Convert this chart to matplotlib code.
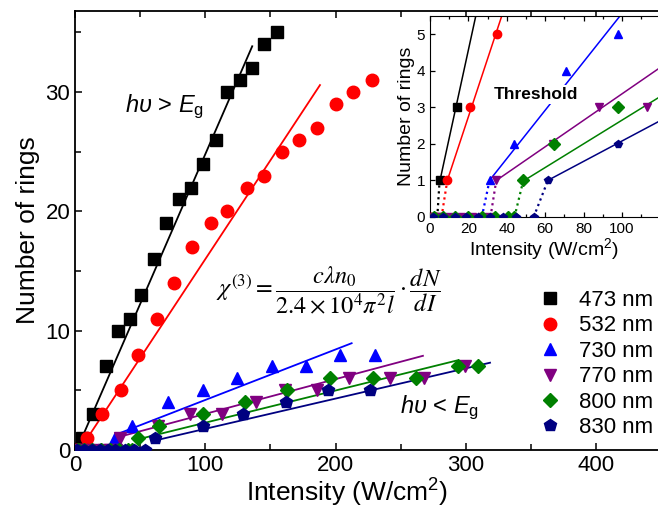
import numpy as np
import matplotlib
matplotlib.use('Agg')
import matplotlib.pyplot as plt
from matplotlib.lines import Line2D
from matplotlib.ticker import MultipleLocator

plt.rcParams['font.family'] = ['Liberation Sans', 'DejaVu Sans']
plt.rcParams['mathtext.fontset'] = 'custom'
plt.rcParams['mathtext.rm'] = 'Liberation Sans'
plt.rcParams['mathtext.it'] = 'Liberation Sans:italic'
plt.rcParams['mathtext.bf'] = 'Liberation Sans:bold'

# intensity (W/cm2) and number of rings, zeros below the threshold first
i473 = [1, 3.8, 5, 14, 24, 33, 42, 51, 61, 70, 80, 89, 98, 108, 117, 127, 136, 145, 155]
n473 = [0, 0, 1, 3, 7, 10, 11, 13, 16, 19, 21, 22, 24, 26, 30, 31, 32, 34, 35]
i532 = [0.5, 3, 6, 9, 21, 35, 48, 63, 76, 90, 104, 117, 132, 145, 159, 172, 186, 200, 213, 228]
n532 = [0, 0, 0, 1, 3, 5, 8, 11, 14, 17, 19, 20, 22, 23, 25, 26, 27, 29, 30, 31]
i730 = [0.5, 4, 9, 14, 19, 23.5, 27, 31, 44, 71, 98, 124, 151, 177, 203, 230]
n730 = [0, 0, 0, 0, 0, 0, 0, 1, 2, 4, 5, 6, 7, 7, 8, 8]
i770 = [1, 5, 10, 16, 22, 27, 31.5, 34.5, 64, 88, 113, 139, 161, 185.5, 210, 242, 268, 299]
n770 = [0, 0, 0, 0, 0, 0, 0, 1, 2, 3, 3, 4, 5, 5, 6, 6, 6, 7]
i800 = [2, 7, 13, 20, 27, 34, 40.5, 44, 48.6, 64.7, 98, 130.5, 163, 196, 229, 262, 294, 309.5]
n800 = [0, 0, 0, 0, 0, 0, 0, 0, 1, 2, 3, 4, 5, 6, 6, 6, 7, 7]
i830 = [1.5, 7, 13, 19, 25, 31, 38, 45, 54, 61.4, 98, 129, 162, 194.4, 226.4]
n830 = [0, 0, 0, 0, 0, 0, 0, 0, 0, 1, 2, 3, 4, 5, 5]

labels = ['473 nm', '532 nm', '730 nm', '770 nm', '800 nm', '830 nm']
colors = ['black', 'red', 'blue', '#800080', '#008000', '#000080']
markers = ['s', 'o', '^', 'v', 'D', 'p']
msizes = [8, 9, 9, 9, 7.5, 9]

# linear fits N = a*I + b over [start, end]
fit_a = [0.2512, 0.1658, 0.04235, 0.02914, 0.027, 0.02536]
fit_b = [-0.32, -0.58, -0.04, 0.115, -0.41, -0.76]
fit_start = [2, 7, 30.7, 34.5, 48.6, 61.4]
fit_end = [136, 188, 212.3, 267, 293, 318.5]
# fits of the first points, shown in the inset
ins_a = [0.2414, 0.1587, 0.0662, 0.0362, 0.0324, 0.0279]
ins_b = [-0.255, -0.43, -1.05, -0.25, -0.59, -0.71]
ins_start = [5, 9, 31, 34.5, 48.6, 61.4]
ins_end = [26, 40, 101, 119, 119, 119]

xs = [i473, i532, i730, i770, i800, i830]
ys = [n473, n532, n730, n770, n800, n830]

fig = plt.figure(figsize=(6.58, 5.12), dpi=100)
ax = fig.add_axes([75 / 658, 1 - 450 / 512, 1 - 75 / 658, 439 / 512])

for k in range(6):
    fx = np.array([fit_start[k], fit_end[k]])
    ax.plot(fx, fit_a[k] * fx + fit_b[k], color=colors[k], lw=1.3, zorder=2)
for k in range(6):
    ax.plot(xs[k], ys[k], ls='none', marker=markers[k], ms=msizes[k],
            color=colors[k], mec=colors[k], zorder=3)

ax.set_xlim(0, 447.4)
ax.set_ylim(0, 36.8)
ax.xaxis.set_major_locator(MultipleLocator(100))
ax.xaxis.set_minor_locator(MultipleLocator(50))
ax.yaxis.set_major_locator(MultipleLocator(10))
ax.yaxis.set_minor_locator(MultipleLocator(5))
ax.tick_params(which='both', direction='in', top=True, right=False, labelsize=16, width=1.1)
ax.tick_params(which='major', length=5)
ax.tick_params(which='minor', length=4)
ax.spines['right'].set_visible(False)
for s in ['left', 'bottom', 'top']:
    ax.spines[s].set_linewidth(1.3)
ax.set_xlabel('Intensity (W/cm$^2$)', fontsize=19, labelpad=1)
ax.xaxis.set_label_coords(0.467, -0.062)
ax.set_ylabel('Number of rings', fontsize=19, labelpad=4)

ax.text(69, 28.8, r'$h\upsilon$ > $E_{\mathrm{g}}$', fontsize=17, ha='center', va='center')
ax.text(280, 3.5, r'$h\upsilon$ < $E_{\mathrm{g}}$', fontsize=17, ha='center', va='center')
ax.text(195, 13.3,
        r'$\chi^{(3)}=\dfrac{c\lambda n_0}{2.4\times10^4\pi^2 l}\cdot\dfrac{dN}{dI}$',
        fontsize=17.5, ha='center', va='center', math_fontfamily='stix')

handles = [Line2D([], [], ls='none', marker=markers[k], ms=msizes[k], color=colors[k])
           for k in range(6)]
fig.legend(handles, labels, loc='upper left', bbox_to_anchor=(539 / 658, 1 - 290 / 512),
           frameon=False, fontsize=16, handlelength=1.0, handletextpad=0.8,
           labelspacing=0.2, borderpad=0, borderaxespad=0)

# inset
ins = fig.add_axes([430 / 658, 1 - 217 / 512, 1 - 430 / 658, 201 / 512])
ins.set_facecolor('white')
for k in range(6):
    fx = np.array([ins_start[k], ins_end[k]])
    ins.plot(fx, ins_a[k] * fx + ins_b[k], color=colors[k], lw=1.1, zorder=2)
    x = np.array(xs[k])
    y = np.array(ys[k])
    j = int(np.argmax(y > 0))
    ins.plot(x[j - 1:j + 1], y[j - 1:j + 1], ls=':', color=colors[k], lw=1.6, zorder=2)
for k in range(6):
    ins.plot(xs[k], ys[k], ls='none', marker=markers[k], ms=6, color=colors[k], zorder=3)

ins.text(55, 3.35, 'Threshold', fontsize=12.5, fontweight='bold', ha='center', va='center',
         bbox=dict(facecolor='white', edgecolor='none', pad=1.5), zorder=4)
ins.set_xlim(0, 118.75)
ins.set_ylim(0, 5.5)
ins.xaxis.set_major_locator(MultipleLocator(20))
ins.xaxis.set_minor_locator(MultipleLocator(10))
ins.yaxis.set_major_locator(MultipleLocator(1))
ins.tick_params(which='both', direction='in', top=True, right=False, labelsize=11, width=0.9)
ins.tick_params(which='major', length=3.5)
ins.tick_params(which='minor', length=2)
ins.spines['right'].set_visible(False)
ins.set_xlabel('Intensity (W/cm$^2$)', fontsize=14, labelpad=0)
ins.set_ylabel('Number of rings', fontsize=14, labelpad=1)

fig.savefig('out.png', dpi=100)
